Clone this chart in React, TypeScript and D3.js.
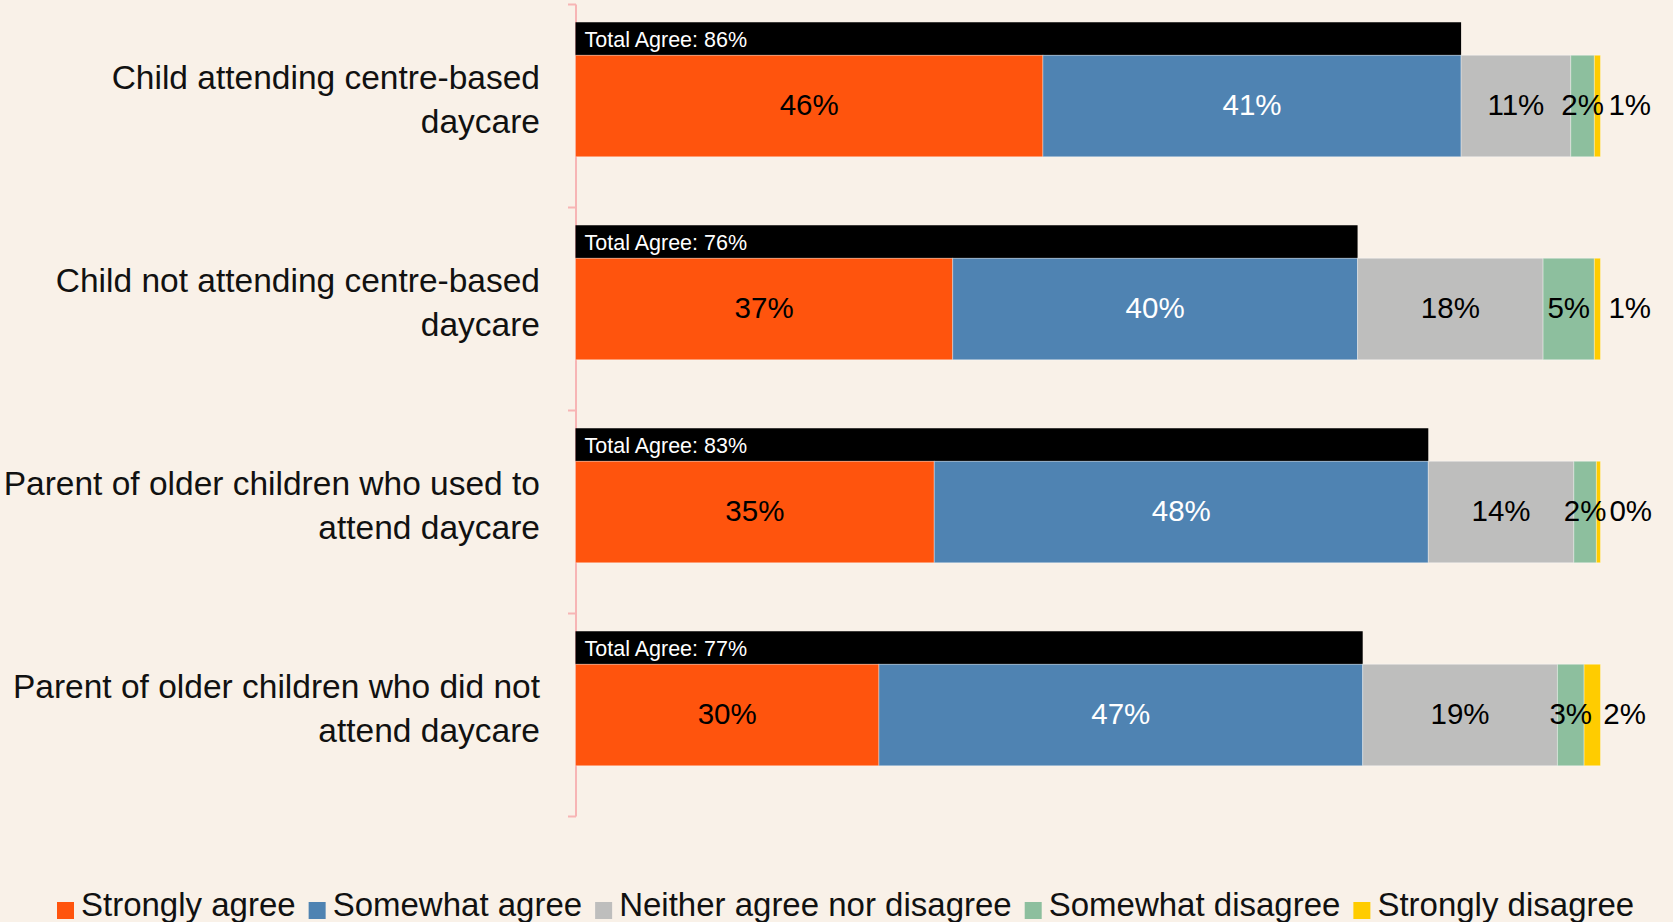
import React, { useEffect, useRef } from "react";
import * as d3 from "d3";

const categories: string[][] = [
  ["Child attending centre-based", "daycare"],
  ["Child not attending centre-based", "daycare"],
  ["Parent of older children who used to", "attend daycare"],
  ["Parent of older children who did not", "attend daycare"],
];
const seriesNames = [
  "Strongly agree",
  "Somewhat agree",
  "Neither agree nor disagree",
  "Somewhat disagree",
  "Strongly disagree",
];
const stronglyAgree = [45.6, 36.8, 35.0, 29.6];
const somewhatAgree = [40.8, 39.5, 48.2, 47.2];
const neither = [10.7, 18.1, 14.2, 19.0];
const somewhatDisagree = [2.3, 5.0, 2.2, 2.6];
const stronglyDisagree = [0.6, 0.6, 0.4, 1.6];
const colors = ["#FF540D", "#4F83B2", "#BEBEBD", "#8DBF9E", "#FFCC00"];
const labelColors = ["#000", "#fff", "#000", "#000", "#000"];

const W = 1673;
const H = 922;
const FONT = "'Liberation Sans', Arial, sans-serif";

export default function App() {
  const ref = useRef<SVGSVGElement | null>(null);

  useEffect(() => {
    const svg = d3.select(ref.current);
    svg.selectAll("*").remove();

    const series = [stronglyAgree, somewhatAgree, neither, somewhatDisagree, stronglyDisagree];
    const keys = categories.map((_, i) => String(i));

    const y = d3.scaleBand<string>().domain(keys).range([4.5, 816.5]).paddingInner(0).paddingOuter(0);
    const x = d3.scaleLinear().domain([0, 100]).range([575.5, 1600.5]);

    const barH = y.bandwidth() * 0.5;
    const totalH = 33;

    svg.append("rect").attr("width", W).attr("height", H).attr("fill", "#F9F1E8");

    // axis
    const axisG = svg.append("g");
    axisG
      .append("line")
      .attr("x1", 576)
      .attr("x2", 576)
      .attr("y1", y.range()[0])
      .attr("y2", y.range()[1])
      .attr("stroke", "#F7B5B5")
      .attr("stroke-width", 2);
    const tickPositions = keys.map((k) => y(k)!).concat([y.range()[1]]);
    axisG
      .selectAll("line.tick")
      .data(tickPositions)
      .join("line")
      .attr("class", "tick")
      .attr("x1", 568)
      .attr("x2", 576)
      .attr("y1", (d) => d)
      .attr("y2", (d) => d)
      .attr("stroke", "#F7B5B5")
      .attr("stroke-width", 2);

    keys.forEach((k, i) => {
      const cy = y(k)! + y.bandwidth() / 2;
      const top = cy - barH / 2;
      const g = svg.append("g");

      // category label
      const lab = g
        .append("text")
        .attr("font-family", FONT)
        .attr("font-size", 33.5)
        .attr("fill", "#111")
        .attr("text-anchor", "end");
      lab.append("tspan").attr("x", 540).attr("y", cy - 17).text(categories[i][0]);
      lab.append("tspan").attr("x", 540).attr("y", cy + 27).text(categories[i][1]);

      // total agree bar
      const total = stronglyAgree[i] + somewhatAgree[i];
      g.append("rect")
        .attr("x", x(0))
        .attr("y", top - totalH)
        .attr("width", x(total) - x(0))
        .attr("height", totalH)
        .attr("fill", "#000");
      g.append("text")
        .attr("x", x(0) + 9)
        .attr("y", top - totalH / 2 + 8)
        .attr("font-family", FONT)
        .attr("font-size", 21.5)
        .attr("fill", "#fff")
        .text(`Total Agree: ${Math.round(total)}%`);

      // stacked segments
      const rectsG = g.append("g");
      const labelsG = g.append("g");
      let acc = 0;
      series.forEach((s, j) => {
        const v = s[i];
        const x0 = x(acc);
        const x1 = x(acc + v);
        acc += v;
        rectsG
          .append("rect")
          .attr("x", x0)
          .attr("y", top)
          .attr("width", x1 - x0)
          .attr("height", barH)
          .attr("fill", colors[j])
          .attr("stroke", "rgba(255,255,255,0.35)")
          .attr("stroke-width", 1);
        const last = j === series.length - 1;
        labelsG
          .append("text")
          .attr("x", last ? (x0 + x1) / 2 + 11 : (x0 + x1) / 2)
          .attr("y", cy + 9)
          .attr("text-anchor", last ? "start" : "middle")
          .attr("font-family", FONT)
          .attr("font-size", 29.5)
          .attr("fill", labelColors[j])
          .text(`${Math.round(v)}%`);
      });
    });

    // legend
    const legend = svg.append("g");
    let lx = 57;
    seriesNames.forEach((name, j) => {
      legend
        .append("rect")
        .attr("x", lx)
        .attr("y", 902)
        .attr("width", 17)
        .attr("height", 17)
        .attr("fill", colors[j]);
      const t = legend
        .append("text")
        .attr("x", lx + 24)
        .attr("y", 916)
        .attr("font-family", FONT)
        .attr("font-size", 33)
        .attr("fill", "#111")
        .text(name);
      const w = (t.node() as SVGTextElement).getComputedTextLength();
      lx = lx + 24 + w + 13;
    });
  }, []);

  return (
    <div style={{ position: "absolute", left: 0, top: 0, width: W, height: H, overflow: "hidden" }}>
      <svg ref={ref} width={W} height={H} style={{ display: "block" }} />
    </div>
  );
}
